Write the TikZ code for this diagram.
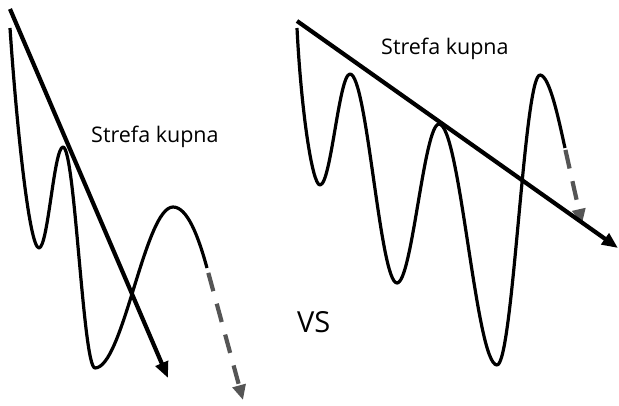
\documentclass[tikz,border=0pt]{standalone}
\usepackage{fontspec}
\setmainfont{Open Sans}
\usetikzlibrary{arrows.meta}
\definecolor{dgray}{RGB}{85,85,85}
\begin{document}
\begin{tikzpicture}[x=1pt,y=-1pt,
  wave/.style={line width=3.2pt,line join=round},
  trend/.style={line width=4.2pt,-{Triangle[length=16pt,width=13pt]}},
  proj/.style={line width=4.2pt,dgray,dash pattern=on 19pt off 13pt,-{Triangle[length=15pt,width=13pt]}},
  lbl/.style={anchor=base west,inner sep=0pt,font=\fontsize{21.5}{25}\selectfont},
  big/.style={anchor=base west,inner sep=0pt,font=\fontsize{29}{34}\selectfont}]
\useasboundingbox (0,0) rectangle (619,406);
% left panel
\coordinate (L0) at (10,28);
\coordinate (L1) at (39,248);
\coordinate (L2) at (63,147);
\coordinate (L3) at (95,368);
\coordinate (L4) at (173,207);
\coordinate (L5) at (207,268);
\coordinate (LT) at (243,400);
\coordinate (LA) at (10,9);
\coordinate (LB) at (168,378);
\draw[wave] (L0) .. controls +(6,90) and +(-10,0) .. (L1)
  .. controls +(9,0) and +(-9,0) .. (L2)
  .. controls +(12,0) and +(-12,0) .. (L3)
  .. controls +(28,0) and +(-28,0) .. (L4)
  .. controls +(14,0) and +(-9,-33) .. (L5);
\draw[proj,shorten <=5pt] (L5) -- (LT);
\draw[trend] (LA) -- (LB);
\node[lbl] (t1) at (91,142.5) {Strefa kupna};
% right panel
\coordinate (R0) at (297,28);
\coordinate (R1) at (320,185);
\coordinate (R2) at (350,74);
\coordinate (R3) at (397,283);
\coordinate (R4) at (439,124);
\coordinate (R5) at (497,365);
\coordinate (R6) at (540,75);
\coordinate (R7) at (565,148);
\coordinate (RT) at (582,224);
\coordinate (RA) at (297,21);
\coordinate (RB) at (618,248);
\draw[wave] (R0) .. controls +(4,80) and +(-8,0) .. (R1)
  .. controls +(11,0) and +(-11,0) .. (R2)
  .. controls +(17,0) and +(-17,0) .. (R3)
  .. controls +(15,0) and +(-15,0) .. (R4)
  .. controls +(21,0) and +(-21,0) .. (R5)
  .. controls +(16,0) and +(-16,0) .. (R6)
  .. controls +(10,0) and +(-5,-22) .. (R7);
\draw[proj,shorten <=2pt] (R7) -- (RT);
\draw[trend] (RA) -- (RB);
\node[lbl] (t2) at (381,55) {Strefa kupna};
\node[big] (vs) at (297,333) {VS};
\end{tikzpicture}
\end{document}
